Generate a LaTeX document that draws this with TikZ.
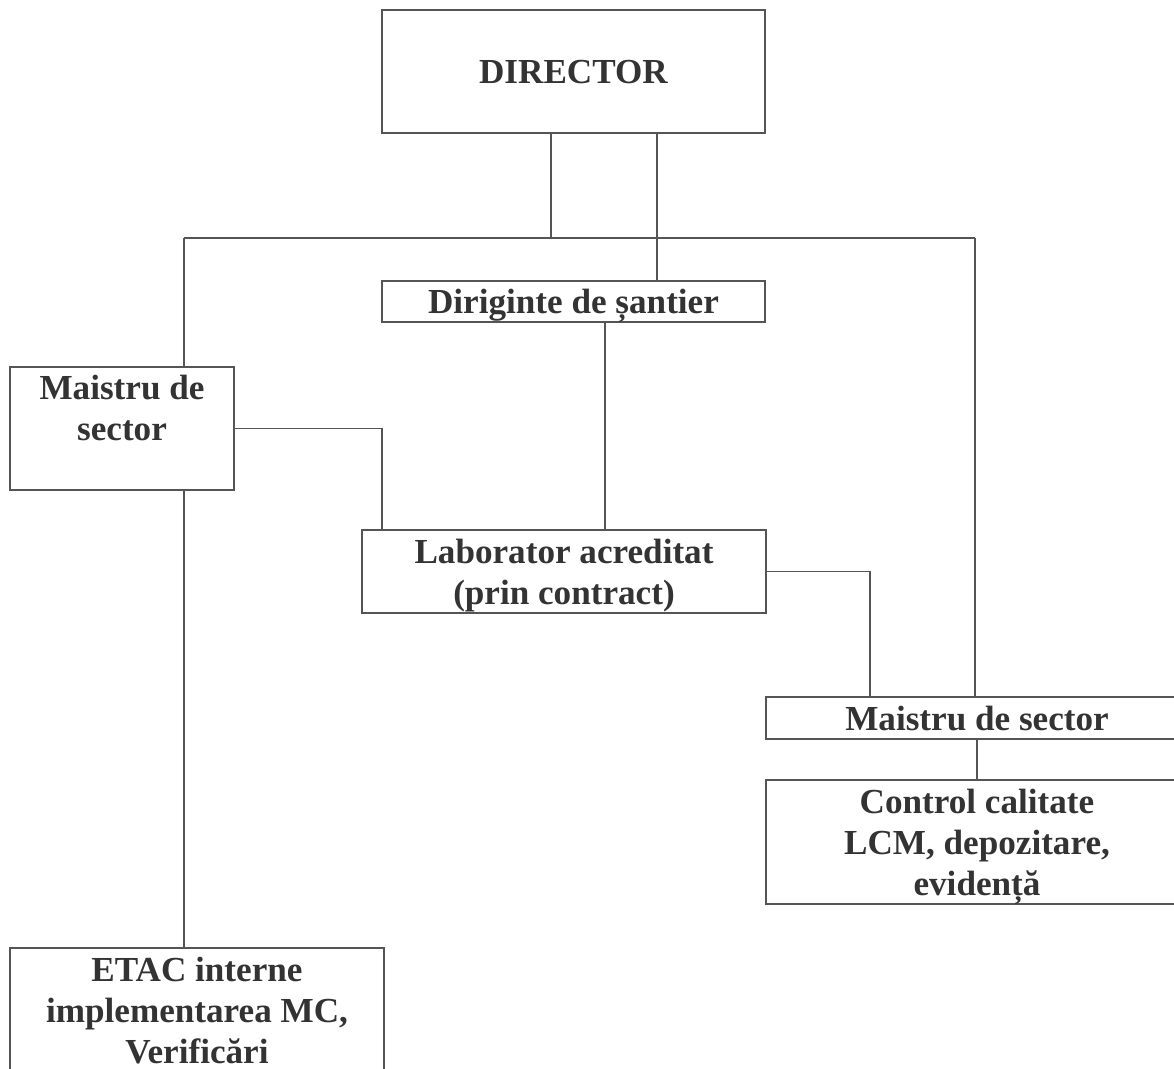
\documentclass[tikz,border=0pt]{standalone}
\usepackage{fontspec}
\setmainfont{Liberation Serif}
\usepackage{tikz}
\usetikzlibrary{calc, positioning}
\definecolor{ink}{HTML}{333333}
\definecolor{rule}{HTML}{555555}

\tikzset{
  orgbox/.style={
    draw=rule, line width=0.8pt, fill=white, inner sep=0pt, outer sep=0pt,
    font=\fontsize{20}{23.4}\selectfont\bfseries, text=ink, align=center,
    text depth=0pt
  },
  link/.style={draw=rule, line width=0.8pt}
}

\begin{document}
\begin{tikzpicture}[x=0.02cm, y=-0.02cm]
  \useasboundingbox (0,0) rectangle (1174,1069);

  \node[orgbox, minimum width=7.66cm, minimum height=2.46cm] (director) at (573.5,71.5) {DIRECTOR};
  \node[orgbox, minimum width=7.66cm, minimum height=0.82cm] (diriginte) at (573.5,301.5) {Diriginte de șantier};
  \node[orgbox, minimum width=4.48cm, minimum height=2.46cm] (maistruA) at (122,428.5) {Maistru de\\ sector\\ \mbox{}};
  \node[orgbox, minimum width=8.08cm, minimum height=1.66cm] (lab) at (564,571.5) {Laborator acreditat\\ (prin contract)};
  \node[orgbox, minimum width=8.44cm, minimum height=0.84cm] (maistruB) at (977,718) {Maistru de sector};
  \node[orgbox, minimum width=8.44cm, minimum height=2.48cm] (control) at (977,842) {Control calitate\\ LCM, depozitare,\\ evidență};
  \node[orgbox, minimum width=7.48cm, minimum height=2.5cm, anchor=north] (etac) at (197,948) {ETAC interne\\ implementarea MC,\\ Verificări};

  % bus and junction points
  \coordinate (bus) at (551,238);
  \coordinate (busL) at (184,238);
  \coordinate (busR) at (975,238);
  \coordinate (d2) at (657,0);
  \coordinate (d3) at (605,0);
  \coordinate (k1) at (382,0);
  \coordinate (k2) at (870,0);

  \draw[link] (director.south -| bus) -- (bus);
  \draw[link] (busL) -- (busR);
  \draw[link] (busL) -- (busL |- maistruA.north);
  \draw[link] (busR) -- (busR |- maistruB.north);
  \draw[link] (director.south -| d2) -- (diriginte.north -| d2);
  \draw[link] (diriginte.south -| d3) -- (lab.north -| d3);
  \draw[link] (maistruA.east) -| (lab.north -| k1);
  \draw[link] (lab.east) -| (maistruB.north -| k2);
  \draw[link] (maistruB.south) -- (control.north);
  \draw[link] (maistruA.south -| busL) -- (etac.north -| busL);
\end{tikzpicture}
\end{document}
